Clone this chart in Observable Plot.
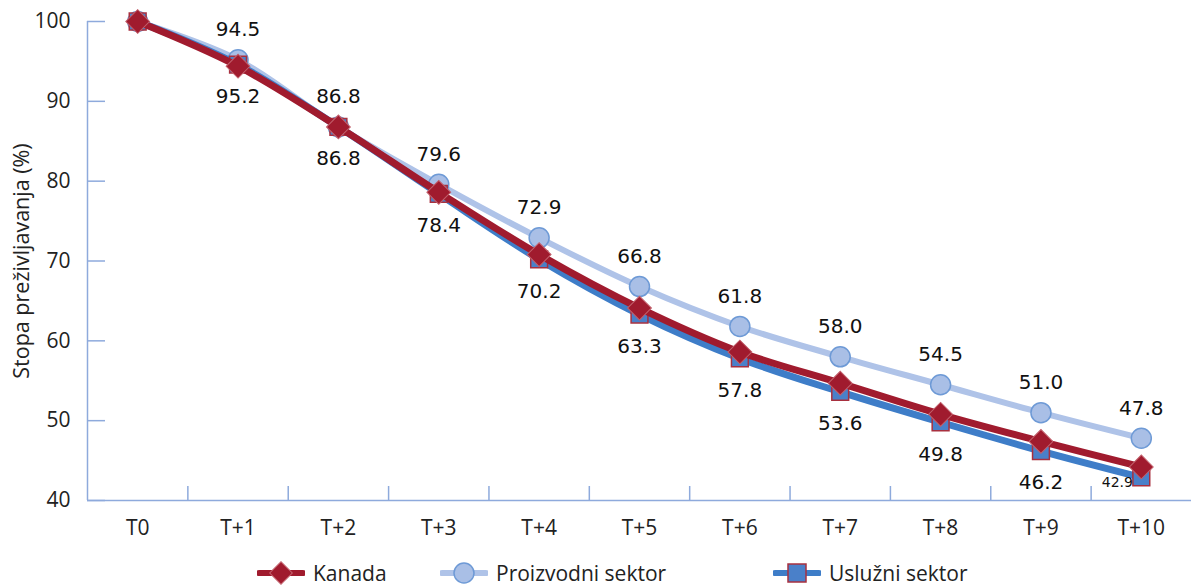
<!DOCTYPE html>
<html><head><meta charset="utf-8">
<script src="https://cdn.jsdelivr.net/npm/d3@7"></script>
<script src="https://cdn.jsdelivr.net/npm/@observablehq/plot@0.6"></script>
<style>
body{margin:0;background:#fff;font-family:"Open Sans",sans-serif;width:1191px;height:587px;overflow:hidden;position:relative}
#legend{position:absolute;left:0;top:556px;width:1191px;height:34px}
.item{position:absolute;top:0;height:34px;display:flex;align-items:center;font-size:21px;line-height:24px;color:#222;white-space:nowrap}
.item svg{margin-right:8px}
</style></head><body>
<div id="chart"></div>
<div id="legend"></div>
<script>
const categories = ["T0","T+1","T+2","T+3","T+4","T+5","T+6","T+7","T+8","T+9","T+10"];
const kanada     = [100,94.4,86.8,78.6,70.8,64.1,58.6,54.7,50.8,47.4,44.2];
const proizvodni = [100,95.2,86.8,79.6,72.9,66.8,61.8,58.0,54.5,51.0,47.8];
const usluzni    = [100,94.6,86.8,78.4,70.2,63.3,57.8,53.6,49.8,46.2,42.9];
const topLabels    = [null,"94.5","86.8","79.6","72.9","66.8","61.8","58.0","54.5","51.0","47.8"];
const bottomLabels = [null,"95.2","86.8","78.4","70.2","63.3","57.8","53.6","49.8","46.2",null];
const endLabel = "42.9";
const yTicks = [40,50,60,70,80,90,100];
const seriesNames = ["Kanada","Proizvodni sektor","Uslužni sektor"];

const colK = "#A01B2E", colP = "#AFC3E8", colU = "#3E7DC8";
const axisCol = "#8EAADC";
const idx = categories.map((_, i) => i);
const bounds = categories.slice(1).map((_, i) => i + 0.5);
const rowsK = idx.map(i => ({i, v: kanada[i]}));
const rowsP = idx.map(i => ({i, v: proizvodni[i]}));
const rowsU = idx.map(i => ({i, v: usluzni[i]}));
const topRows = idx.filter(i => topLabels[i]).map(i => ({i, v: proizvodni[i], t: topLabels[i]}));
const botRows = idx.filter(i => bottomLabels[i]).map(i => ({i, v: usluzni[i], t: bottomLabels[i]}));
const last = idx.length - 1;
const endRows = [{i: last, v: usluzni[last], t: endLabel}];

const plot = Plot.plot({
  width: 1191, height: 552,
  marginLeft: 87, marginRight: 0, marginTop: 21, marginBottom: 52,
  style: {fontFamily: "'Open Sans', sans-serif", background: "#fff", color: "#222"},
  x: {domain: [-0.5, categories.length - 0.5]},
  y: {domain: [40, 100]},
  marks: [
    Plot.ruleX([-0.5], {stroke: axisCol, strokeWidth: 1.5}),
    Plot.ruleY([40], {stroke: axisCol, strokeWidth: 1.5}),
    Plot.axisY({ticks: yTicks, tickSize: -18, tickFormat: () => "", stroke: axisCol, strokeWidth: 1.5, label: null}),
    Plot.axisY({ticks: yTicks, tickSize: 0, tickPadding: 17, fill: "#222",
      label: "Stopa preživljavanja (%)", labelAnchor: "center", labelArrow: "none", labelOffset: 74}),
    Plot.axisX({ticks: bounds, tickSize: -14, tickFormat: () => "", stroke: axisCol, strokeWidth: 1.5, label: null}),
    Plot.axisX({ticks: idx, tickSize: 0, tickPadding: 20, fill: "#222", tickFormat: i => categories[i], label: null}),
    Plot.line(rowsP, {x: "i", y: "v", stroke: colP, strokeWidth: 6, curve: "catmull-rom"}),
    Plot.dot(rowsP, {x: "i", y: "v", r: 10, fill: "#A9BFE6", stroke: "#6E9AD6", strokeWidth: 1.5}),
    Plot.line(rowsU, {x: "i", y: "v", stroke: colU, strokeWidth: 7, curve: "catmull-rom"}),
    Plot.dot(rowsU, {x: "i", y: "v", r: 9.5, symbol: "square", fill: "#4A80C9", stroke: "#A8303F", strokeWidth: 1.5}),
    Plot.line(rowsK, {x: "i", y: "v", stroke: colK, strokeWidth: 7, curve: "catmull-rom"}),
    Plot.dot(rowsK, {x: "i", y: "v", r: 9.5, symbol: "square", rotate: 45, fill: colK, stroke: "#C2606C", strokeWidth: 1}),
    Plot.text(topRows, {x: "i", y: "v", text: "t", dy: -30, fill: "#111"}),
    Plot.text(botRows, {x: "i", y: "v", text: "t", dy: 32, fill: "#111"}),
    Plot.text(endRows, {x: "i", y: "v", text: "t", dx: -24, dy: 5, fill: "#111"})
  ]
});
document.getElementById("chart").appendChild(plot);

// font styling
const svg = d3.select(plot);
const textGroups = svg.selectAll('g[aria-label="text"]').nodes();
textGroups.forEach((g, k) => {
  d3.select(g).selectAll("text")
    .style("font-family", "'DejaVu Sans', Verdana, sans-serif")
    .style("font-size", k === textGroups.length - 1 ? "14px" : "20px");
});
svg.selectAll('g[aria-label="x-axis tick label"] text, g[aria-label="y-axis tick label"] text')
  .style("font-size", "21px").style("font-family", "'Open Sans', sans-serif");
svg.selectAll('g[aria-label="y-axis label"] text')
  .style("font-size", "21.5px").style("font-family", "'Open Sans', sans-serif");

// legend
const legend = document.getElementById("legend");
const lefts = [257, 440, 773];
const markers = [
  `<line x1="2" y1="17" x2="46" y2="17" stroke="${colK}" stroke-width="6" stroke-linecap="round"/><rect x="16" y="9" width="16" height="16" transform="rotate(45 24 17)" fill="${colK}" stroke="#C2606C" stroke-width="1"/>`,
  `<line x1="2" y1="17" x2="46" y2="17" stroke="${colP}" stroke-width="6" stroke-linecap="round"/><circle cx="24" cy="17" r="10" fill="#A9BFE6" stroke="#6E9AD6" stroke-width="1.5"/>`,
  `<line x1="2" y1="17" x2="46" y2="17" stroke="${colU}" stroke-width="6" stroke-linecap="round"/><rect x="15" y="8" width="18" height="18" fill="#4A80C9" stroke="#A8303F" stroke-width="1.5"/>`
];
seriesNames.forEach((name, k) => {
  const d = document.createElement("div");
  d.className = "item";
  d.style.left = lefts[k] + "px";
  d.innerHTML = `<svg width="48" height="34">${markers[k]}</svg><span>${name}</span>`;
  legend.appendChild(d);
});
</script>
</body></html>
